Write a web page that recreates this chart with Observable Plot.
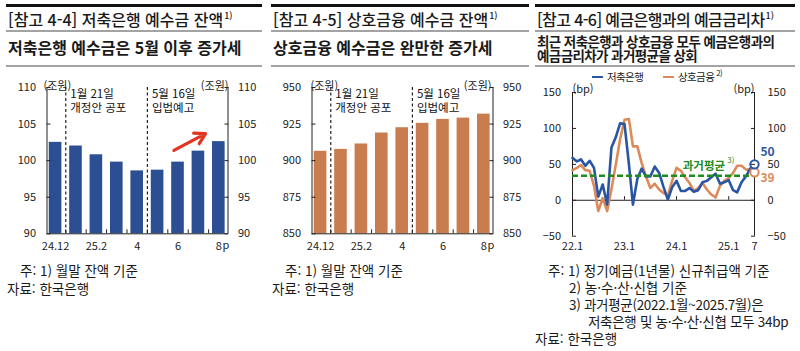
<!DOCTYPE html>
<html lang="ko"><head><meta charset="utf-8">
<script src="https://cdn.jsdelivr.net/npm/d3@7"></script>
<script src="https://cdn.jsdelivr.net/npm/@observablehq/plot@0.6"></script>
<style>
html,body{margin:0;padding:0;background:#fff}
body{width:800px;height:351px;position:relative;overflow:hidden;font-family:"Noto Sans CJK KR","Noto Sans",sans-serif;color:#1a1a1a}
.a{position:absolute;white-space:nowrap}
.thick{height:3px;background:#111}
.gray{height:2px;background:#a3a3a3}
.title{font-size:16px;font-weight:500;line-height:20px}
.sub{font-size:16px;font-weight:700;line-height:20px}
.note{font-size:13.5px;line-height:17px}
.sup{font-size:9px;position:relative;top:-7px;margin-left:1px}
.chart{position:absolute;top:70px}
.leg{font-size:10.5px;letter-spacing:-0.6px;line-height:14px}
.sw{display:inline-block;width:11px;height:2.5px;vertical-align:middle;margin-right:4px;position:relative;top:-1px}
</style></head><body>
<script>
// ---------- data ----------
const months = ["24.12","25.1","25.2","25.3","25.4","25.5","25.6","25.7","25.8"];
const savingsDeposits = [102.5, 102.0, 100.8, 99.8, 98.6, 98.7, 99.8, 101.3, 102.6];
const mutualDeposits = [906.4, 907.7, 911.4, 918.9, 922.5, 925.5, 928.2, 929.1, 931.8];
const monthTickLabels = ["24.12","","25.2","","4","","6","","8"];
const eventMonths = ["25.1","25.5"];
const eventNotes = ["1월 21일\n개정안 공포","5월 16일\n입법예고"];
const savingsTicks = [90,95,100,105,110];
const mutualTicks = [850,875,900,925,950];
const trendArrow = {x1: 5.8, y1: 101.4, x2: 7.35, y2: 103.7};

const rateStart = [2022, 0];
const savingsSpread = [59,54,57,48,55,45,5,22,-6,73,88,107,106,50,-6,30,44,33,33,47,38,19,1,18,27,13,13,17,12,14,25,27,32,37,23,25,28,14,11,25,33,44,50];
const mutualSpread = [42,45,49,42,41,20,-15,3,-15,15,50,85,112,113,75,75,52,33,17,23,15,10,7,27,45,41,32,24,13,17,24,15,8,4,20,27,31,38,48,48,43,42,39];
const pastAverage = 34;
const rateTickMonths = ["2022-01","2023-01","2024-01","2025-01","2025-07"];
const rateTickLabels = ["22.1","23.1","24.1","25.1","7"];
const rateTicks = [-50,0,50,100,150];

const BLUE_BAR = "#2b4f92", ORANGE_BAR = "#c97c4e";
const BLUE = "#2a55a3", ORANGE = "#dc8a5a", GREEN = "#1f8c1f", RED = "#e2351f";
const FONT = '"Noto Sans CJK KR","Noto Sans",sans-serif';

// ---------- static text ----------
function el(html, style, cls){const d=document.createElement("div");d.className="a "+(cls||"");d.style.cssText=style;d.innerHTML=html;document.body.appendChild(d);return d;}

function header(left, width, title, sub, subStyle){
  el("", `left:${left}px;top:4px;width:${width}px`, "thick");
  el(title, `left:${left+2}px;top:8.5px`, "title");
  el("", `left:${left}px;top:30px;width:${width}px`, "gray");
  el(sub, subStyle || `left:${left+2}px;top:37px`, "sub");
  el("", `left:${left}px;top:64.5px;width:${width}px`, "gray");
}
header(6, 256, '[참고 4-4] 저축은행 예수금 잔액<span class="sup">1)</span>', '저축은행 예수금은 5월 이후 증가세');
header(271, 258, '[참고 4-5] 상호금융 예수금 잔액<span class="sup">1)</span>', '상호금융 예수금은 완만한 증가세');
header(535, 260, '<span style="letter-spacing:-0.6px">[참고 4-6] 예금은행과의 예금금리차</span><span class="sup">1)</span>',
  '<div style="letter-spacing:-0.6px;line-height:14.5px">최근 저축은행과 상호금융 모두 예금은행과의<br>예금금리차가 과거평균을 상회</div>',
  'left:537px;top:33.5px;font-size:13.5px;line-height:14.5px');

// ---------- bar panels ----------
function barPanel(values, color, yDomain, yTicks, withArrow, unitDx){
  const xDom = [-0.42, 8.45];
  const y0 = yDomain[0];
  const unit = (yDomain[1]-y0)/146;
  const rows = months.map((m,i)=>({i, m, v: values[i]}));
  const evRows = eventMonths.map((m,k)=>({x: months.indexOf(m)-0.5, t: eventNotes[k]}));
  const tickIdx = monthTickLabels.map((l,i)=>l ? i : null).filter(i=>i!==null);
  const marks = [
    Plot.rect(rows, {x1: d=>d.i-0.5, x2: d=>d.i+0.5, y1: y0, y2: "v", fill: color, insetLeft: 3.9, insetRight: 3.9}),
    Plot.ruleX(d3.range(0.5, 8, 1), {y1: y0, y2: y0 + 4*unit, stroke: "#222"}),
    Plot.ruleX(evRows, {x: "x", stroke: "#222", strokeWidth: 1.2, strokeDasharray: "3,2.5"}),
    Plot.text(evRows, {x: "x", y: yDomain[1], text: "t", textAnchor: "start", lineAnchor: "top", dx: 4.5, dy: 0.5, fontSize: 11.5, lineHeight: 1.22, fill: "#111"}),
    Plot.ruleX(xDom, {stroke: "#222"}),
    Plot.ruleY([y0], {stroke: "#222"}),
    Plot.axisY({anchor: "left", ticks: yTicks, tickSize: -4, tickPadding: 15, label: null, fontSize: 11}),
    Plot.axisY({anchor: "right", ticks: yTicks, tickSize: -4, tickPadding: 14, label: null, fontSize: 11}),
    Plot.axisX({ticks: tickIdx, tickFormat: i=>monthTickLabels[i], tickSize: 0, tickPadding: 8.5, label: null, fontSize: 11}),
    Plot.text([months.length-1], {x: d=>d, y: y0, text: ()=>"p", dx: 7, dy: 11.5, fontSize: 11}),
    Plot.text(["(조원)"], {frameAnchor: "top-left", text: d=>d, textAnchor: "start", dx: unitDx[0], dy: -5.5, fontSize: 11}),
    Plot.text(["(조원)"], {frameAnchor: "top-right", text: d=>d, textAnchor: "end", dx: unitDx[1], dy: -5.5, fontSize: 11})
  ];
  if (withArrow) marks.push(Plot.arrow([trendArrow], {x1: "x1", y1: "y1", x2: "x2", y2: "y2", stroke: RED, strokeWidth: 3.2, headLength: 9}));
  return Plot.plot({
    width: 265, height: 185, marginLeft: 46.5, marginRight: 37.5, marginTop: 17, marginBottom: 21.7,
    x: {domain: xDom, axis: null, label: null},
    y: {domain: yDomain, axis: null, label: null},
    style: {fontFamily: FONT, fontSize: "11px", color: "#222", background: "transparent", overflow: "visible"},
    marks
  });
}

function place(svg, left, width){
  const d = document.createElement("div");
  d.className = "chart"; d.style.left = left+"px"; d.style.width = width+"px";
  d.appendChild(svg); document.body.appendChild(d);
}
place(barPanel(savingsDeposits, BLUE_BAR, [90,110], savingsTicks, true, [-3.5, 0.5]), 0, 265);
place(barPanel(mutualDeposits, ORANGE_BAR, [850,950], mutualTicks, false, [-1.5, -1.5]), 265, 265);

// ---------- rate spread panel ----------
const mDate = s => { const [y,m] = s.split("-").map(Number); return new Date(Date.UTC(y, m-1, 1)); };
const rateRows = savingsSpread.map((v,i)=>({date: new Date(Date.UTC(rateStart[0], rateStart[1]+i, 1)), savings: v, mutual: mutualSpread[i]}));
const xDomR = [rateRows[0].date, rateRows[rateRows.length-1].date];
const last = rateRows[rateRows.length-1];
const tickDates = rateTickMonths.map(mDate);
const ratePlot = Plot.plot({
  width: 270, height: 185, marginLeft: 42, marginRight: 46, marginTop: 22, marginBottom: 19.3,
  x: {type: "utc", domain: xDomR, axis: null, label: null},
  y: {domain: [-50,150], axis: null, label: null},
  style: {fontFamily: FONT, fontSize: "11px", color: "#222", background: "transparent", overflow: "visible"},
  marks: [
    Plot.ruleX(xDomR, {stroke: "#222"}),
    Plot.ruleY([0], {stroke: "#222"}),
    Plot.ruleX(tickDates.slice(1,4), {y1: 0, y2: 5, stroke: "#222"}),
    Plot.lineY(rateRows, {x: "date", y: "mutual", stroke: ORANGE, strokeWidth: 2.6}),
    Plot.lineY(rateRows, {x: "date", y: "savings", stroke: BLUE, strokeWidth: 2.6}),
    Plot.ruleY([pastAverage], {stroke: GREEN, strokeWidth: 2.5, strokeDasharray: "6,3"}),
    Plot.dot([last], {x: "date", y: "mutual", r: 4.2, stroke: ORANGE, fill: "white", strokeWidth: 2}),
    Plot.dot([last], {x: "date", y: "savings", r: 4.2, stroke: BLUE, fill: "white", strokeWidth: 2}),
    Plot.text([last], {x: "date", y: "savings", text: d=>String(d.savings), dx: 6, dy: -12, textAnchor: "start", fill: BLUE, fontSize: 12, fontWeight: 600}),
    Plot.text([last], {x: "date", y: "mutual", text: d=>String(d.mutual), dx: 6, dy: 6, textAnchor: "start", fill: ORANGE, fontSize: 12, fontWeight: 600}),
    Plot.text(["과거평균"], {x: ()=>mDate("2024-08"), y: pastAverage, text: d=>d, dx: -3, dy: -10, fill: GREEN, fontSize: 11.5, fontWeight: 700}),
    Plot.text(["3)"], {x: ()=>mDate("2024-08"), y: pastAverage, text: d=>d, dx: 24, dy: -15, fill: GREEN, fontSize: 8}),
    Plot.axisY({anchor: "left", ticks: rateTicks, tickSize: -4, tickPadding: 15.5, label: null, fontSize: 11}),
    Plot.axisY({anchor: "right", ticks: rateTicks, tickSize: -4, tickPadding: 17, label: null, fontSize: 11}),
    Plot.axisX({ticks: tickDates, tickFormat: (d,i)=>rateTickLabels[i], tickSize: 0, tickPadding: 6, label: null, fontSize: 11}),
    Plot.text(["(bp)"], {frameAnchor: "top-left", text: d=>d, textAnchor: "start", dx: 0, dy: -7, fontSize: 11}),
    Plot.text(["(bp)"], {frameAnchor: "top-right", text: d=>d, textAnchor: "end", dx: 0, dy: -7, fontSize: 11})
  ]
});
place(ratePlot, 530, 270);

// legend
el(`<span class="sw" style="background:${BLUE}"></span>저축은행`, "left:592px;top:70px", "leg");
el(`<span class="sw" style="background:${ORANGE}"></span>상호금융<span style="font-size:8px;position:relative;top:-5px;margin-left:2px">2)</span>`, "left:663px;top:70px", "leg");

// ---------- notes ----------
el("주: 1) 월말 잔액 기준", "left:20px;top:261.5px", "note");
el("자료: 한국은행", "left:7px;top:279.5px", "note");
el("주: 1) 월말 잔액 기준", "left:285px;top:261.5px", "note");
el("자료: 한국은행", "left:272px;top:279.5px", "note");
el("주: 1) 정기예금(1년물) 신규취급액 기준", "left:548px;top:261.5px", "note");
el("2) 농·수·산·신협 기준", "left:569px;top:278.5px", "note");
el("3) 과거평균(2022.1월~2025.7월)은", "left:569px;top:295.5px;letter-spacing:-0.3px", "note");
el("저축은행 및 농·수·산·신협 모두 34bp", "left:588px;top:312.5px;letter-spacing:-0.3px", "note");
el("자료: 한국은행", "left:535px;top:329.5px", "note");
</script>
</body></html>
